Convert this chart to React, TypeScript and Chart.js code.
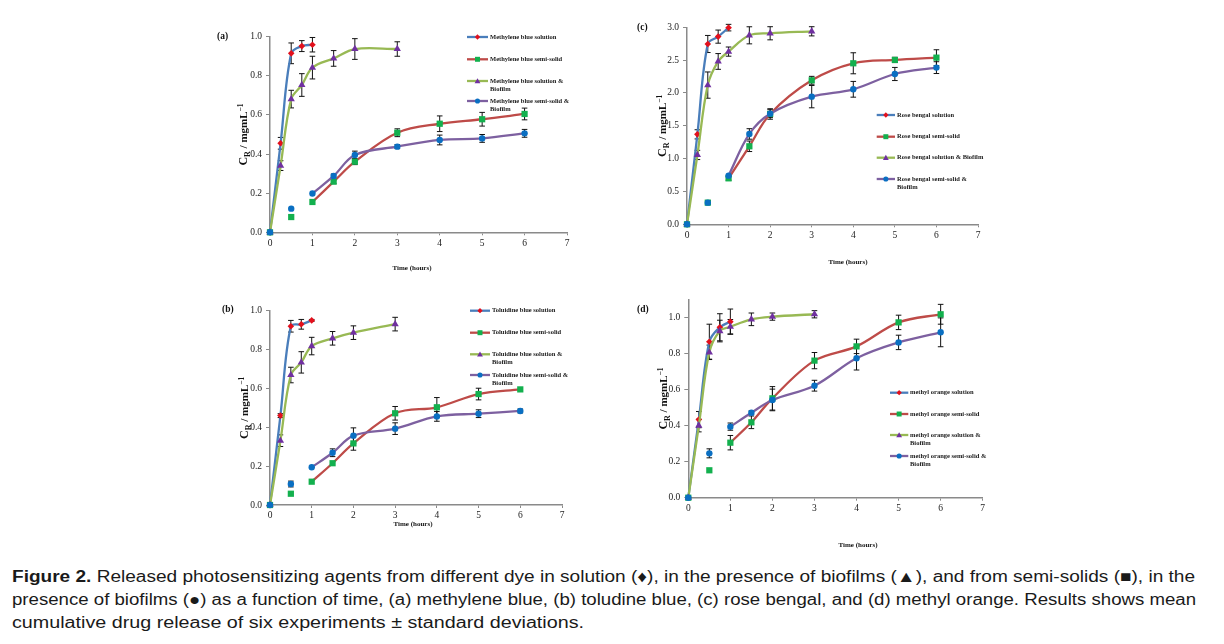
import React, { useEffect, useLayoutEffect, useRef } from "react";
import { Chart, registerables } from "chart.js";
Chart.register(...registerables);

const SERIF = '"Liberation Serif", "Times New Roman", serif';

// ---------------- data ----------------
const timeSolution = [0, 0.25, 0.5, 0.75, 1];
const timeSolutionBiofilm = [0, 0.25, 0.5, 0.75, 1, 1.5, 2, 3];
const timeSemiSolid = [0, 0.5, 1, 1.5, 2, 3, 4, 5, 6];
const xTickValues = [0, 1, 2, 3, 4, 5, 6, 7];

// (a) methylene blue
const mbSolution = [0, 0.455, 0.915, 0.952, 0.959];
const mbSolutionErr = [0, 0.03, 0.053, 0.028, 0.037];
const mbSemiSolid = [0, 0.078, 0.155, 0.259, 0.361, 0.509, 0.555, 0.578, 0.605];
const mbSemiSolidErr = [0, 0, 0, 0.01, 0.015, 0.02, 0.04, 0.035, 0.03];
const mbSolBiofilm = [0, 0.341, 0.681, 0.753, 0.842, 0.889, 0.937, 0.937];
const mbSolBiofilmErr = [0, 0.025, 0.045, 0.058, 0.058, 0.04, 0.053, 0.037];
const mbSemiBiofilm = [0, 0.121, 0.198, 0.288, 0.395, 0.438, 0.472, 0.48, 0.506];
const mbSemiBiofilmErr = [0, 0, 0, 0.01, 0.02, 0.01, 0.025, 0.02, 0.02];
const mbLabels = [
  ["Methylene blue solution"],
  ["Methylene blue semi-solid"],
  ["Methylene blue solution &", "Biofilm"],
  ["Methylene blue semi-solid &", "Biofilm"],
];

// (b) toluidine blue
const tbSolution = [0, 0.46, 0.92, 0.93, 0.95];
const tbSolutionErr = [0, 0.01, 0.03, 0.025, 0.005];
const tbSemiSolid = [0, 0.058, 0.12, 0.215, 0.317, 0.472, 0.503, 0.571, 0.595];
const tbSemiSolidErr = [0, 0, 0, 0, 0.035, 0.035, 0.05, 0.03, 0];
const tbSolBiofilm = [0, 0.331, 0.669, 0.734, 0.818, 0.858, 0.887, 0.931];
const tbSolBiofilmErr = [0, 0.03, 0.04, 0.055, 0.045, 0.035, 0.035, 0.035];
const tbSemiBiofilm = [0, 0.108, 0.194, 0.269, 0.357, 0.393, 0.456, 0.47, 0.484];
const tbSemiBiofilmErr = [0, 0.015, 0, 0.02, 0.04, 0.03, 0.025, 0.02, 0.01];
const tbLabels = [
  ["Toluidine blue solution"],
  ["Toluidine blue semi-solid"],
  ["Toluidine blue solution &", "Biofilm"],
  ["Toluidine blue semi-solid &", "Biofilm"],
];

// (c) rose bengal
const rbSolution = [0, 1.37, 2.746, 2.858, 2.995];
const rbSolutionErr = [0, 0.07, 0.13, 0.1, 0.05];
const rbSemiSolid = [0, 0.33, 0.7, 1.188, 1.68, 2.193, 2.452, 2.503, 2.538];
const rbSemiSolidErr = [0, 0.03, 0.03, 0.08, 0.08, 0.06, 0.16, 0.04, 0.12];
const rbSolBiofilm = [0, 1.056, 2.12, 2.48, 2.63, 2.878, 2.909, 2.939];
const rbSolBiofilmErr = [0, 0.07, 0.2, 0.12, 0.07, 0.13, 0.1, 0.07];
const rbSemiBiofilm = [0, 0.33, 0.741, 1.376, 1.685, 1.944, 2.056, 2.289, 2.386];
const rbSemiBiofilmErr = [0, 0, 0, 0.08, 0.06, 0.17, 0.12, 0.1, 0.09];
const rbLabels = [
  ["Rose bengal solution"],
  ["Rose bengal semi-solid"],
  ["Rose bengal solution & Biofilm"],
  ["Rose bengal semi-solid &", "Biofilm"],
];

// (d) methyl orange
const moSolution = [0, 0.433, 0.865, 0.945, 0.976];
const moSolutionErr = [0, 0.045, 0.097, 0.075, 0.07];
const moSemiSolid = [0, 0.152, 0.305, 0.418, 0.551, 0.76, 0.839, 0.972, 1.017];
const moSemiSolidErr = [0, 0, 0.04, 0.035, 0.065, 0.045, 0.04, 0.04, 0.055];
const moSolBiofilm = [0, 0.4, 0.806, 0.924, 0.948, 0.989, 1.004, 1.017];
const moSolBiofilmErr = [0, 0.035, 0.04, 0.06, 0.04, 0.035, 0.02, 0.02];
const moSemiBiofilm = [0, 0.246, 0.394, 0.471, 0.542, 0.621, 0.773, 0.861, 0.917];
const moSemiBiofilmErr = [0, 0.025, 0.02, 0.01, 0.06, 0.03, 0.065, 0.04, 0.08];
const moLabels = [
  ["methyl orange solution"],
  ["methyl orange semi-solid"],
  ["methyl orange solution &", "Biofilm"],
  ["methyl orange semi-solid &", "Biofilm"],
];

// ---------------- styles ----------------
const AXIS = "#8a8a8a";
const seriesStyles = [
  { line: "#4A7EBB", marker: "#E3101C", shape: "rectRot", radius: 3.3, lineFrom: 0 },
  { line: "#BE4B48", marker: "#13B04E", shape: "rect", radius: 4.4, lineFrom: 1 },
  { line: "#98B954", marker: "#7030A0", shape: "triangle", radius: 4.2, lineFrom: 0 },
  { line: "#7D60A0", marker: "#0A6FC2", shape: "circle", radius: 3.2, lineFrom: 1 },
];

type PanelCfg = {
  key: string;
  area: { l: number; r: number; t: number; b: number };
  yMax: number;
  yStep: number;
  yTickMax: number;
  label: { x: number; y: number };
  yTitleX: number;
  xTitle: { x: number; y: number };
  legend: { x0: number; x1: number; tx: number; ys: number[] };
  labels: string[][];
  ys: number[][];
  errs: number[][];
};

const times = [timeSolution, timeSemiSolid, timeSolutionBiofilm, timeSemiSolid];

const panels: PanelCfg[] = [
  {
    key: "(a)", area: { l: 270, r: 567, t: 36.7, b: 232.3 }, yMax: 1, yStep: 0.2, yTickMax: 1,
    label: { x: 217, y: 37 }, yTitleX: 243, xTitle: { x: 412, y: 268 },
    legend: { x0: 467, x1: 488, tx: 490, ys: [37, 59.3, 81, 101] },
    labels: mbLabels,
    ys: [mbSolution, mbSemiSolid, mbSolBiofilm, mbSemiBiofilm],
    errs: [mbSolutionErr, mbSemiSolidErr, mbSolBiofilmErr, mbSemiBiofilmErr],
  },
  {
    key: "(b)", area: { l: 270, r: 562, t: 310.7, b: 505 }, yMax: 1, yStep: 0.2, yTickMax: 1,
    label: { x: 222, y: 310 }, yTitleX: 244, xTitle: { x: 413, y: 524 },
    legend: { x0: 470, x1: 490, tx: 492, ys: [310.7, 332.7, 354.3, 375] },
    labels: tbLabels,
    ys: [tbSolution, tbSemiSolid, tbSolBiofilm, tbSemiBiofilm],
    errs: [tbSolutionErr, tbSemiSolidErr, tbSolBiofilmErr, tbSemiBiofilmErr],
  },
  {
    key: "(c)", area: { l: 687, r: 978, t: 27.3, b: 224.3 }, yMax: 3, yStep: 0.5, yTickMax: 3,
    label: { x: 637, y: 28 }, yTitleX: 662, xTitle: { x: 848, y: 262 },
    legend: { x0: 876.7, x1: 895, tx: 897, ys: [115, 136.7, 157.7, 179] },
    labels: rbLabels,
    ys: [rbSolution, rbSemiSolid, rbSolBiofilm, rbSemiBiofilm],
    errs: [rbSolutionErr, rbSemiSolidErr, rbSolBiofilmErr, rbSemiBiofilmErr],
  },
  {
    key: "(d)", area: { l: 688.3, r: 982.7, t: 299.3, b: 497.7 }, yMax: 1.1, yStep: 0.2, yTickMax: 1,
    label: { x: 637, y: 310 }, yTitleX: 663, xTitle: { x: 858, y: 545 },
    legend: { x0: 890, x1: 908.3, tx: 910, ys: [392.7, 414, 435, 456] },
    labels: moLabels,
    ys: [moSolution, moSemiSolid, moSolBiofilm, moSemiBiofilm],
    errs: [moSolutionErr, moSemiSolidErr, moSolBiofilmErr, moSemiBiofilmErr],
  },
];

function drawMarker(ctx: CanvasRenderingContext2D, shape: string, x: number, y: number, r: number, color: string) {
  ctx.save();
  ctx.fillStyle = color;
  ctx.beginPath();
  if (shape === "circle") {
    ctx.arc(x, y, r, 0, Math.PI * 2);
  } else if (shape === "rect") {
    const s = r * Math.SQRT1_2;
    ctx.rect(x - s, y - s, 2 * s, 2 * s);
  } else if (shape === "rectRot") {
    ctx.moveTo(x, y - r);
    ctx.lineTo(x + r, y);
    ctx.lineTo(x, y + r);
    ctx.lineTo(x - r, y);
    ctx.closePath();
  } else if (shape === "triangle") {
    for (let k = 0; k < 3; k++) {
      const a = (k * 2 * Math.PI) / 3;
      const px = x + Math.sin(a) * r;
      const py = y - Math.cos(a) * r + r * 0.15;
      if (k === 0) ctx.moveTo(px, py);
      else ctx.lineTo(px, py);
    }
    ctx.closePath();
  }
  ctx.fill();
  ctx.restore();
}

function Panel({ panel }: { panel: PanelCfg }) {
  const ref = useRef<HTMLCanvasElement>(null);
  const { l, r, t, b } = panel.area;
  const left = Math.floor(l - 62);
  const top = Math.floor(t - 14);
  const width = Math.ceil(r + 22) - left;
  const height = Math.ceil(b + 60) - top;

  useEffect(() => {
    const yAxisW = l - left;
    const padTop = t - top;
    const padRight = left + width - r;
    const xAxisH = top + height - b;
    const datasets: any[] = [];
    panel.ys.forEach((ys, i) => {
      const st = seriesStyles[i];
      const pts = times[i].map((x, j) => ({ x, y: ys[j] }));
      const common = {
        borderColor: st.line,
        backgroundColor: st.marker,
        pointBackgroundColor: st.marker,
        pointBorderColor: st.marker,
        pointBorderWidth: 0,
        pointStyle: st.shape,
        pointRadius: st.radius,
        borderWidth: 2.3,
        tension: 0.35,
        order: 10 - i,
        clip: false,
      };
      datasets.push({ ...common, data: pts.filter((p) => p.x >= st.lineFrom) });
      const loose = pts.filter((p) => p.x < st.lineFrom);
      if (loose.length) datasets.push({ ...common, data: loose, showLine: false });
    });

    const overlay = {
      id: "overlay",
      beforeDatasetsDraw(chart: any) {
        const ctx = chart.ctx as CanvasRenderingContext2D;
        const xs = chart.scales.x, yS = chart.scales.y;
        ctx.save();
        ctx.strokeStyle = "#111";
        ctx.lineWidth = 1;
        panel.ys.forEach((ys, i) => {
          times[i].forEach((x, j) => {
            const e = panel.errs[i][j];
            if (!e) return;
            const px = xs.getPixelForValue(x);
            const y1 = yS.getPixelForValue(ys[j] + e);
            const y2 = yS.getPixelForValue(ys[j] - e);
            ctx.beginPath();
            ctx.moveTo(px, y1); ctx.lineTo(px, y2);
            ctx.moveTo(px - 2.8, y1); ctx.lineTo(px + 2.8, y1);
            ctx.moveTo(px - 2.8, y2); ctx.lineTo(px + 2.8, y2);
            ctx.stroke();
          });
        });
        ctx.restore();
      },
      afterDraw(chart: any) {
        const ctx = chart.ctx as CanvasRenderingContext2D;
        const ox = left, oy = top;
        ctx.save();
        // legend
        const lg = panel.legend;
        panel.labels.forEach((lines, i) => {
          const st = seriesStyles[i];
          const y = lg.ys[i] - oy;
          ctx.strokeStyle = st.line;
          ctx.lineWidth = 2.3;
          ctx.beginPath();
          ctx.moveTo(lg.x0 - ox, y);
          ctx.lineTo(lg.x1 - ox, y);
          ctx.stroke();
          drawMarker(ctx, st.shape, (lg.x0 + lg.x1) / 2 - ox, y, st.radius * 0.8, st.marker);
          ctx.fillStyle = "#1a1a1a";
          ctx.font = `bold 6.5px ${SERIF}`;
          ctx.textBaseline = "middle";
          ctx.textAlign = "left";
          lines.forEach((txt, k) => ctx.fillText(txt, lg.tx - ox, y + k * 8.4));
        });
        // panel label
        ctx.fillStyle = "#111";
        ctx.font = `bold 9.5px ${SERIF}`;
        ctx.textBaseline = "middle";
        ctx.fillText(panel.key, panel.label.x - ox, panel.label.y - oy);
        // x title
        ctx.font = `bold 7px ${SERIF}`;
        ctx.textAlign = "center";
        ctx.fillText("Time (hours)", panel.xTitle.x - ox, panel.xTitle.y - oy);
        // y title
        const cy = (chart.chartArea.top + chart.chartArea.bottom) / 2;
        ctx.translate(panel.yTitleX - ox, cy);
        ctx.rotate(-Math.PI / 2);
        const parts = [
          { t: "C", s: 12, dy: 0 },
          { t: "R", s: 8, dy: 2.5 },
          { t: " / mgmL", s: 11, dy: 0 },
          { t: "\u22121", s: 7.5, dy: -4.5 },
        ];
        let total = 0;
        parts.forEach((p) => { ctx.font = `bold ${p.s}px ${SERIF}`; total += ctx.measureText(p.t).width; });
        let cx = -total / 2;
        ctx.textAlign = "left";
        ctx.textBaseline = "alphabetic";
        parts.forEach((p) => {
          ctx.font = `bold ${p.s}px ${SERIF}`;
          ctx.fillText(p.t, cx, 4 + p.dy);
          cx += ctx.measureText(p.t).width;
        });
        ctx.restore();
      },
    };

    const chart = new Chart(ref.current as HTMLCanvasElement, {
      type: "line",
      data: { datasets },
      options: {
        responsive: false,
        animation: false,
        events: [],
        layout: { padding: { left: 0, top: padTop, right: padRight, bottom: 0 } },
        plugins: { legend: { display: false }, tooltip: { enabled: false } },
        scales: {
          x: {
            type: "linear",
            min: 0,
            max: 7,
            afterFit: (s: any) => { s.height = xAxisH; },
            afterBuildTicks: (s: any) => { s.ticks = xTickValues.map((v) => ({ value: v })); },
            ticks: { stepSize: 1, font: { family: SERIF, size: 9.5 }, color: "#222", padding: 2, callback: (v: any) => String(v) },
            grid: { display: true, drawOnChartArea: false, drawTicks: true, tickLength: 3, color: AXIS, lineWidth: 1 },
            border: { display: true, color: AXIS, width: 1.5 },
          },
          y: {
            type: "linear",
            min: 0,
            max: panel.yMax,
            afterFit: (s: any) => { s.width = yAxisW; },
            afterBuildTicks: (s: any) => { s.ticks = s.ticks.filter((tk: any) => tk.value <= panel.yTickMax + 1e-6); },
            ticks: { stepSize: panel.yStep, font: { family: SERIF, size: 9.5 }, color: "#222", padding: 4, callback: (v: any) => Number(v).toFixed(1) },
            grid: { display: true, drawOnChartArea: false, drawTicks: true, tickLength: 4, color: AXIS, lineWidth: 1 },
            border: { display: true, color: AXIS, width: 1.5 },
          },
        },
      },
      plugins: [overlay],
    } as any);
    return () => chart.destroy();
  }, []);

  return (
    <canvas
      ref={ref}
      width={width}
      height={height}
      style={{ position: "absolute", left, top, width, height }}
    />
  );
}

const captionLines = [
  { bold: "Figure 2.", text: " Released photosensitizing agents from different dye in solution (\u2666), in the presence of biofilms (\u25B2), and from semi-solids (\u25A0), in the", width: 1183 },
  { bold: "", text: "presence of biofilms (\u25CF) as a function of time, (a) methylene blue, (b) toludine blue, (c) rose bengal, and (d) methyl orange. Results shows mean", width: 1184 },
  { bold: "", text: "cumulative drug release of six experiments \u00B1 standard deviations.", width: 572 },
];

function Caption() {
  const refs = [useRef<HTMLSpanElement>(null), useRef<HTMLSpanElement>(null), useRef<HTMLSpanElement>(null)];
  useLayoutEffect(() => {
    const fit = () => {
      refs.forEach((rf, i) => {
        const el = rf.current;
        if (!el) return;
        el.style.transform = "none";
        const w = el.getBoundingClientRect().width;
        if (w > 0) el.style.transform = `scaleX(${captionLines[i].width / w})`;
      });
    };
    fit();
    (document as any).fonts?.ready?.then(fit);
  }, []);
  return (
    <div style={{ position: "absolute", left: 12, top: 565, fontFamily: '"Liberation Sans", Arial, sans-serif', fontSize: 16, lineHeight: "23px", color: "#1a1a1a" }}>
      {captionLines.map((ln, i) => (
        <div key={i} style={{ whiteSpace: "nowrap", height: 23 }}>
          <span ref={refs[i]} style={{ display: "inline-block", transformOrigin: "0 0" }}>
            {ln.bold ? <b>{ln.bold}</b> : null}
            {ln.text}
          </span>
        </div>
      ))}
    </div>
  );
}

export default function App() {
  return (
    <div style={{ position: "absolute", left: 0, top: 0, width: 1224, height: 644, background: "#fff", overflow: "hidden" }}>
      {panels.map((p) => (
        <Panel key={p.key} panel={p} />
      ))}
      <Caption />
    </div>
  );
}
